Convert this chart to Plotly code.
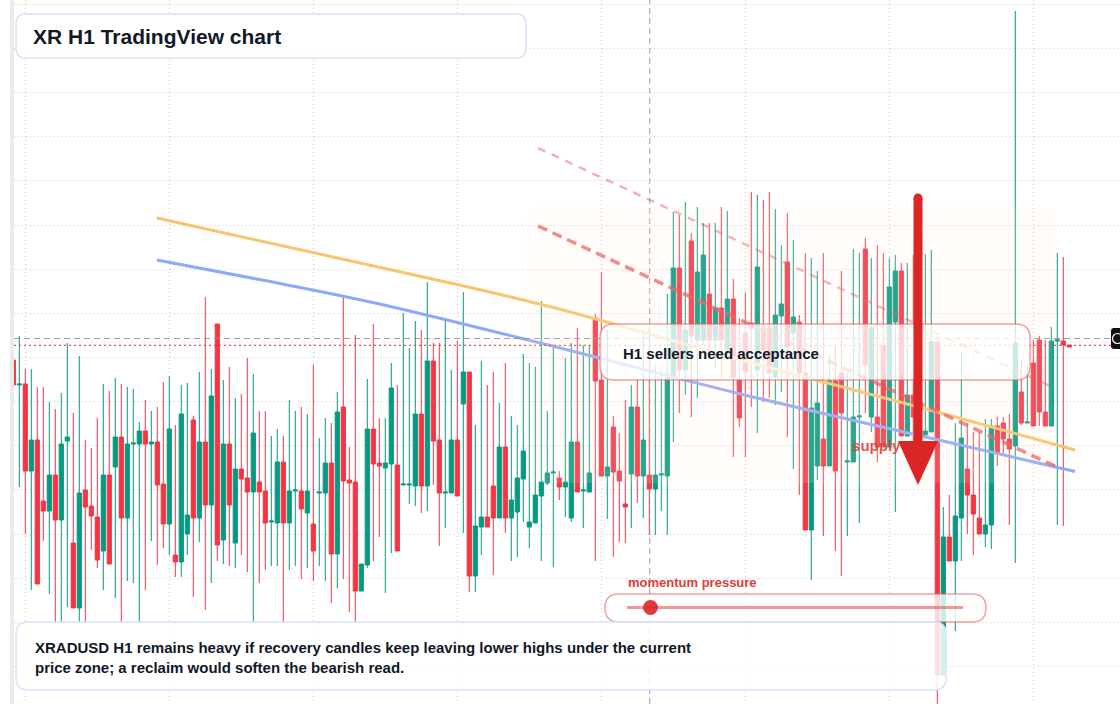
import plotly.graph_objects as go
import pandas as pd

W, H = 1120, 704
ML = 14
PW = W - ML

START = pd.Timestamp("2025-03-02 22:00")  # first H1 candle

OPEN = [640, 615, 616, 529, 560, 499, 489, 525, 480, 559,
        457, 392, 510, 494, 483, 449, 525, 533, 563, 482,
        556, 556, 569, 556, 558, 516, 476, 445, 438, 466,
        580, 482, 558, 495, 676, 460, 556, 457, 531, 522,
        508, 518, 509, 478, 477, 538, 477, 509, 509, 487,
        476, 507, 507, 537, 446, 593, 520, 518, 409, 435,
        571, 537, 532, 536, 535, 515, 515, 514, 586, 514,
        639, 560, 507, 507, 560, 596, 628, 424, 473, 483,
        514, 482, 553, 482, 488, 521, 473, 477, 504, 517,
        527, 522, 513, 482, 558, 509, 508, 682, 620, 524,
        573, 529, 496, 526, 593, 524, 525, 511, 525, 524,
        622, 732, 630, 759, 660, 660, 706, 660, 692, 650,
        701, 620, 667, 677, 630, 672, 672, 623, 684, 738,
        667, 678, 627, 470, 534, 561, 534, 619, 627, 538,
        538, 583, 751, 583, 583, 654, 553, 678, 729, 564,
        605, 570, 565, 568, 658, 325, 463, 439, 482, 531,
        505, 482, 466, 475, 574, 577, 561, 554, 608, 577,
        637, 660, 588, 574, 659, 659, 655]
HIGH = [640, 664, 631, 631, 613, 613, 598, 591, 607, 657,
        587, 644, 560, 552, 582, 616, 609, 622, 616, 613,
        611, 578, 600, 589, 593, 618, 624, 575, 615, 617,
        584, 628, 703, 631, 676, 620, 633, 602, 606, 642,
        626, 589, 589, 564, 571, 564, 600, 589, 593, 586,
        635, 562, 582, 577, 608, 705, 553, 665, 436, 621,
        676, 582, 582, 637, 615, 687, 652, 679, 670, 718,
        657, 657, 679, 630, 659, 708, 628, 575, 639, 615,
        628, 597, 637, 584, 575, 646, 637, 633, 699, 589,
        653, 529, 642, 657, 672, 655, 655, 686, 728, 670,
        584, 567, 600, 615, 620, 670, 673, 635, 630, 706,
        788, 785, 798, 767, 793, 777, 777, 777, 793, 789,
        721, 682, 707, 808, 805, 800, 808, 791, 755, 787,
        760, 685, 747, 742, 729, 747, 645, 654, 729, 627,
        751, 747, 762, 742, 755, 747, 742, 745, 737, 737,
        745, 740, 746, 750, 658, 493, 505, 577, 648, 577,
        568, 568, 581, 581, 583, 583, 586, 989, 640, 634,
        660, 664, 660, 673, 747, 743, 655]
LOW = [615, 513, 466, 410, 416, 459, 406, 378, 378, 393,
       392, 378, 378, 450, 432, 410, 436, 402, 378, 419,
       417, 378, 410, 459, 435, 452, 445, 423, 423, 445,
       403, 458, 390, 417, 439, 436, 434, 432, 445, 428,
       378, 417, 430, 434, 434, 378, 430, 434, 421, 432,
       419, 434, 419, 397, 412, 421, 388, 378, 409, 432,
       439, 463, 407, 447, 449, 515, 496, 494, 487, 489,
       515, 454, 472, 507, 504, 467, 408, 408, 445, 473,
       425, 482, 467, 439, 443, 478, 452, 477, 439, 515,
       433, 500, 483, 478, 508, 472, 508, 439, 524, 481,
       443, 458, 457, 472, 497, 482, 465, 465, 489, 465,
       558, 587, 605, 583, 602, 655, 650, 632, 622, 640,
       543, 573, 543, 593, 567, 598, 602, 595, 608, 563,
       531, 505, 470, 420, 520, 464, 534, 449, 424, 464,
       538, 477, 587, 568, 538, 553, 553, 488, 564, 564,
       555, 550, 565, 568, 288, 325, 439, 369, 439, 466,
       445, 466, 453, 451, 534, 545, 475, 437, 575, 577,
       574, 574, 574, 574, 475, 474, 653]
CLOSE = [615, 616, 529, 560, 416, 489, 525, 480, 556, 563,
         392, 507, 493, 484, 440, 525, 436, 563, 482, 556,
         557, 569, 556, 558, 515, 476, 571, 438, 586, 485,
         482, 558, 495, 604, 455, 556, 495, 531, 521, 508,
         567, 508, 477, 479, 538, 477, 509, 510, 491, 509,
         449, 508, 537, 446, 588, 519, 517, 409, 436, 571,
         536, 534, 537, 612, 449, 516, 516, 586, 514, 639,
         559, 507, 508, 560, 504, 628, 424, 474, 483, 473,
         482, 553, 482, 500, 522, 549, 478, 505, 518, 527,
         528, 513, 518, 558, 508, 510, 527, 619, 524, 533,
         528, 519, 493, 593, 524, 560, 511, 525, 526, 622,
         732, 630, 670, 664, 728, 745, 660, 692, 660, 701,
         623, 582, 628, 672, 733, 650, 627, 685, 696, 653,
         683, 627, 470, 592, 597, 534, 619, 529, 587, 539,
         583, 584, 635, 672, 553, 553, 713, 729, 564, 605,
         583, 590, 569, 658, 325, 463, 439, 484, 562, 505,
         486, 466, 475, 574, 546, 561, 551, 657, 577, 578,
         574, 588, 574, 659, 660, 655, 653]

# moving-average style guides (candle index, price)
ORANGE_IDX = [23.95, 70.6, 90.3, 121.9, 152.8, 176.95]
ORANGE_PRICE = [782, 720, 692, 639, 590, 550]
BLUE_IDX = [23.95, 41.45, 60.3, 91.1, 121.9, 152.8, 176.95]
BLUE_PRICE = [740, 720, 697, 652, 605, 562, 528.5]
CHANNEL_LOW_IDX = [87.45, 173.6]
CHANNEL_LOW_PRICE = [774, 534]
CHANNEL_HIGH_IDX = [87.45, 172.8]
CHANNEL_HIGH_PRICE = [852, 614]

CROSS_IDX = 106.07
CROSS_PRICE = 661.5
LAST_PRICE = 654.7
MOMENTUM = 0.07
SUPPLY_IDX, SUPPLY_PRICE = 139.8, 553

TITLE = "XR H1 TradingView chart"
NOTE = "H1 sellers need acceptance"
FOOT = ("XRADUSD H1 remains heavy if recovery candles keep leaving lower highs under the current"
        "<br>price zone; a reclaim would soften the bearish read.")

n = min(len(OPEN), len(HIGH), len(LOW), len(CLOSE))


def t(i):
    return START + pd.Timedelta(hours=float(i))


X = [t(i) for i in range(n)]

fig = go.Figure()
fig.add_trace(go.Candlestick(
    x=X, open=OPEN[:n], high=HIGH[:n], low=LOW[:n], close=CLOSE[:n],
    increasing=dict(line=dict(color="#089981", width=1), fillcolor="#089981"),
    decreasing=dict(line=dict(color="#F23645", width=1), fillcolor="#F23645"),
    whiskerwidth=0, showlegend=False, hoverinfo="skip"))

fig.add_trace(go.Scatter(x=[t(i) for i in ORANGE_IDX], y=ORANGE_PRICE, mode="lines",
                         line=dict(color="#F9C46B", width=3, shape="spline"),
                         showlegend=False, hoverinfo="skip"))
fig.add_trace(go.Scatter(x=[t(i) for i in BLUE_IDX], y=BLUE_PRICE, mode="lines",
                         line=dict(color="#8EA9F5", width=3, shape="spline"),
                         showlegend=False, hoverinfo="skip"))
fig.add_trace(go.Scatter(x=[t(i) for i in CHANNEL_HIGH_IDX], y=CHANNEL_HIGH_PRICE, mode="lines",
                         line=dict(color="rgba(229,83,83,0.45)", width=2.5, dash="8px,7px"),
                         showlegend=False, hoverinfo="skip"))
fig.add_trace(go.Scatter(x=[t(i) for i in CHANNEL_LOW_IDX], y=CHANNEL_LOW_PRICE, mode="lines",
                         line=dict(color="rgba(229,83,83,0.75)", width=3.5, dash="10px,6px"),
                         showlegend=False, hoverinfo="skip"))
fig.add_trace(go.Scatter(x=[t(SUPPLY_IDX)], y=[SUPPLY_PRICE], mode="text",
                         text=["<b>supply test</b>"], textposition="middle right",
                         textfont=dict(family="Liberation Sans", size=15, color="rgba(220,38,38,0.92)"),
                         showlegend=False, hoverinfo="skip"))


def px(x):
    return (x - ML) / PW


def py(y):
    return 1 - y / H


def rrect(x0, y0, x1, y1, r):
    return (f"M {px(x0 + r)},{py(y0)} L {px(x1 - r)},{py(y0)} Q {px(x1)},{py(y0)} {px(x1)},{py(y0 + r)} "
            f"L {px(x1)},{py(y1 - r)} Q {px(x1)},{py(y1)} {px(x1 - r)},{py(y1)} "
            f"L {px(x0 + r)},{py(y1)} Q {px(x0)},{py(y1)} {px(x0)},{py(y1 - r)} "
            f"L {px(x0)},{py(y0 + r)} Q {px(x0)},{py(y0)} {px(x0 + r)},{py(y0)} Z")


shapes = []
# crosshair + last price
shapes.append(dict(type="line", xref="paper", yref="y", x0=0, x1=1, y0=CROSS_PRICE, y1=CROSS_PRICE,
                   line=dict(color="rgba(140,140,140,0.85)", width=1, dash="6px,4px"), layer="above"))
shapes.append(dict(type="line", xref="x", yref="paper", x0=t(CROSS_IDX), x1=t(CROSS_IDX), y0=0, y1=1,
                   line=dict(color="rgba(140,140,140,0.85)", width=1, dash="6px,4px"), layer="above"))
shapes.append(dict(type="line", xref="paper", yref="y", x0=0, x1=1, y0=LAST_PRICE, y1=LAST_PRICE,
                   line=dict(color="rgba(242,54,69,0.9)", width=1.2, dash="2px,3px"), layer="above"))
# zone
shapes.append(dict(type="path", xref="paper", yref="paper", path=rrect(527, 207, 1053, 483, 16),
                   fillcolor="rgba(255,236,220,0.14)", line=dict(width=0), layer="above"))
# note box
shapes.append(dict(type="path", xref="paper", yref="paper", path=rrect(600, 324, 1030, 380, 14),
                   fillcolor="rgba(255,255,255,0.76)", line=dict(color="rgba(229,83,83,0.55)", width=1.5),
                   layer="above"))
# title box
shapes.append(dict(type="path", xref="paper", yref="paper", path=rrect(16, 14, 526, 58, 10),
                   fillcolor="white", line=dict(color="#D6E4FA", width=1.5), layer="above"))
# momentum box
shapes.append(dict(type="path", xref="paper", yref="paper", path=rrect(605, 594, 986, 622, 14),
                   fillcolor="rgba(255,255,255,0.8)", line=dict(color="rgba(229,83,83,0.55)", width=1.5),
                   layer="above"))
mx0, mx1, my = 627, 963, 607.5
shapes.append(dict(type="line", xref="paper", yref="paper", x0=px(mx0), x1=px(mx1), y0=py(my), y1=py(my),
                   line=dict(color="rgba(229,83,83,0.6)", width=3), layer="above"))
dotx = mx0 + MOMENTUM * (mx1 - mx0)
shapes.append(dict(type="circle", xref="paper", yref="paper", x0=px(dotx - 7.5), x1=px(dotx + 7.5),
                   y0=py(my + 7.5), y1=py(my - 7.5), fillcolor="rgba(220,38,38,0.9)",
                   line=dict(width=0), layer="above"))
# footer box
shapes.append(dict(type="path", xref="paper", yref="paper", path=rrect(16, 622, 946, 690, 12),
                   fillcolor="rgba(255,255,255,0.84)", line=dict(color="#D6E4FA", width=1.5), layer="above"))
# big arrow
shapes.append(dict(type="line", xref="paper", yref="paper", x0=px(918), x1=px(918), y0=py(198), y1=py(446),
                   line=dict(color="#DC2626", width=9), layer="above"))
shapes.append(dict(type="circle", xref="paper", yref="paper", x0=px(913.5), x1=px(922.5),
                   y0=py(202.5), y1=py(193.5), fillcolor="#DC2626", line=dict(width=0), layer="above"))
shapes.append(dict(type="path", xref="paper", yref="paper",
                   path=f"M {px(898)},{py(441)} L {px(938)},{py(441)} L {px(918)},{py(485)} Z",
                   fillcolor="#DC2626", line=dict(width=0), layer="above"))
# left border strip
shapes.append(dict(type="rect", xref="paper", yref="paper", x0=px(10), x1=px(14), y0=0, y1=1,
                   fillcolor="#EBEBEB", line=dict(width=0), layer="above"))
# right price tag
shapes.append(dict(type="path", xref="paper", yref="paper", path=rrect(1111, 328, 1135, 349, 3),
                   fillcolor="#111111", line=dict(width=0), layer="above"))
shapes.append(dict(type="circle", xref="paper", yref="paper", x0=px(1112.5), x1=px(1122.5),
                   y0=py(343.5), y1=py(333.5), fillcolor="rgba(0,0,0,0)",
                   line=dict(color="white", width=1.2), layer="above"))

annotations = [
    dict(xref="paper", yref="paper", x=px(31), y=py(36), xanchor="left", yanchor="middle",
         text=f"<b>{TITLE}</b>", showarrow=False,
         font=dict(family="Liberation Sans", size=21, color="#111827")),
    dict(xref="paper", yref="paper", x=px(621), y=py(353), xanchor="left", yanchor="middle",
         text=f"<b>{NOTE}</b>", showarrow=False,
         font=dict(family="Liberation Sans", size=15, color="#111827")),
    dict(xref="paper", yref="paper", x=px(626), y=py(582), xanchor="left", yanchor="middle",
         text="<b>momentum pressure</b>", showarrow=False,
         font=dict(family="Liberation Sans", size=13, color="#E03A3A")),
    dict(xref="paper", yref="paper", x=px(33), y=py(657), xanchor="left", yanchor="middle",
         text=f"<b>{FOOT}</b>", showarrow=False, align="left",
         font=dict(family="Liberation Sans", size=15, color="#111827")),
]

fig.update_layout(
    width=W, height=H,
    margin=dict(l=ML, r=0, t=0, b=0, autoexpand=False),
    paper_bgcolor="white", plot_bgcolor="white",
    boxgap=0.3, boxgroupgap=0,
    shapes=shapes, annotations=annotations,
    showlegend=False,
    xaxis=dict(type="date", range=[str(t(0.1167)), str(t(184.45))],
               rangeslider=dict(visible=False), showticklabels=False,
               showgrid=True, gridcolor="#CCCCCC", griddash="1px,3px", gridwidth=1,
               tick0="2025-03-03 00:00", dtick=86400000, zeroline=False, showline=False, ticks=""),
    yaxis=dict(range=[296, 1000], showticklabels=False, showgrid=True, gridcolor="#CCCCCC",
               griddash="1px,3px", gridwidth=1, tick0=333.6, dtick=44.13, zeroline=False,
               showline=False, ticks=""),
)

fig.write_html("out.html", include_plotlyjs=True, config={"displayModeBar": False})
